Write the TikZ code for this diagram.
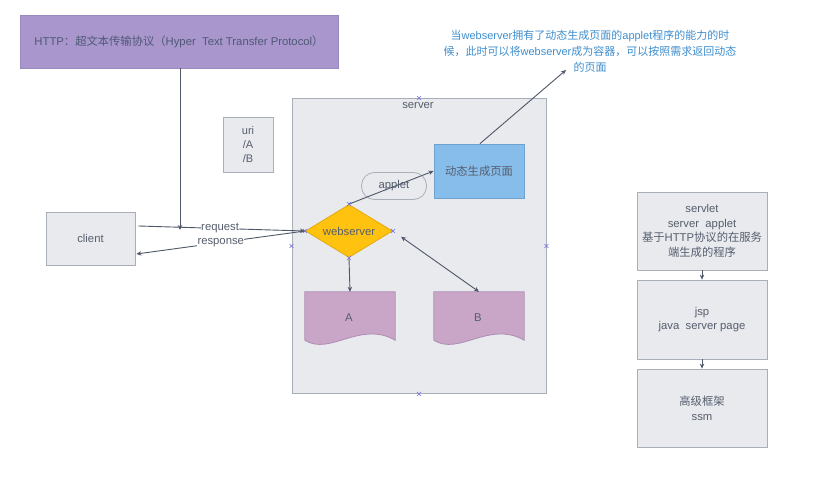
\documentclass[tikz,border=0pt]{standalone}
\usepackage{fontspec}
\setmainfont{Liberation Sans}
\newfontfamily\cjk{Noto Sans CJK SC}
\newcommand\zh[1]{{\cjk #1}}
\usetikzlibrary{shapes.geometric,arrows.meta,calc}
\definecolor{boxfill}{HTML}{E8EAEE}
\definecolor{boxline}{HTML}{A9AFB9}
\definecolor{txt}{HTML}{565E6D}
\definecolor{httpfill}{HTML}{A896CC}
\definecolor{httpline}{HTML}{9A88C0}
\definecolor{httptxt}{HTML}{505976}
\definecolor{dynfill}{HTML}{87BDEA}
\definecolor{dynline}{HTML}{6FA2CF}
\definecolor{wsfill}{HTML}{FFC20E}
\definecolor{wsline}{HTML}{E3AA10}
\definecolor{docfill}{HTML}{C9A6C7}
\definecolor{docline}{HTML}{AE8DB4}
\definecolor{arrc}{HTML}{4F5868}
\definecolor{notec}{HTML}{3E8ECE}
\definecolor{markc}{HTML}{6E6EE0}
\newcommand\selmark[1]{\draw[markc, line width=0.5pt] ($(#1)+(-2,-2)$) -- ($(#1)+(2,2)$) ($(#1)+(-2,2)$) -- ($(#1)+(2,-2)$);}
\begin{document}
\begin{tikzpicture}[x=1pt,y=-1pt,
  font=\fontsize{11.3}{15}\selectfont,
  box/.style={draw=boxline, fill=boxfill, line width=0.8pt, inner sep=0pt, align=center, text=txt},
  arr/.style={draw=arrc, line width=0.9pt, -{Stealth[length=5pt,width=4.5pt]}},
  arrboth/.style={draw=arrc, line width=0.9pt, {Stealth[length=5pt,width=4.5pt]}-{Stealth[length=5pt,width=4.5pt]}},
  lbl/.style={fill=white, inner sep=0.5pt, text=txt},
  docbox/.style={minimum width=90pt, minimum height=48pt, inner sep=0pt, text=txt}
]
\useasboundingbox[fill=white] (0,0) rectangle (815,481);

% HTTP box
\node[box, draw=httpline, fill=httpfill, text=httptxt, minimum width=318pt, minimum height=53pt] (http) at (179,41.5)
  {HTTP\zh{：超文本传输协议（}Hyper\ \ Text Transfer Protocol\zh{）}};

% client
\node[box, minimum width=89pt, minimum height=53pt] (client) at (90.5,238.5) {client};

% server container
\node[box, minimum width=254pt, minimum height=295pt] (server) at (419,246) {};
\node[text=txt, inner sep=0pt] (srvlabel) at (418,106) {server};

% uri box
\node[box, minimum width=50pt, minimum height=55pt, font=\fontsize{11}{14}\selectfont] (uri) at (248,144.5) {uri\\/A\\/B};

% dynamic page box
\node[box, draw=dynline, fill=dynfill, minimum width=90pt, minimum height=54pt] (dyn) at (479,171) {\zh{动态生成页面}};

% applet pill
\node[draw=boxline, line width=0.8pt, rounded corners=13pt, minimum width=65pt, minimum height=27pt, inner sep=0pt, text=txt] (applet) at (394,186) {applet};

% webserver diamond
\node[diamond, draw=wsline, fill=wsfill, line width=0.8pt, aspect=1.64, minimum width=87pt, minimum height=53pt, inner sep=0pt, text=txt] (ws) at (349,231) {webserver};

% documents A and B
\node[docbox] (A) at (350,316) {};
\node[docbox] (B) at (479,316) {};
\foreach \d in {A,B}{
  \draw[draw=docline, fill=docfill, line width=0.8pt]
    (\d.north west) -- (\d.north east) -- (\d.south east)
    .. controls ($(\d.south east)+(-35,-20)$) and ($(\d.south west)+(25,16)$) .. (\d.south west) -- cycle;
}
\node[text=txt] (Alabel) at (349,318) {A};
\node[text=txt] (Blabel) at (478,318) {B};

% right column
\node[box, minimum width=130pt, minimum height=78pt, font=\fontsize{11.3}{14.7}\selectfont] (servlet) at (702,231)
  {servlet\\server\ \ applet\\\zh{基于}HTTP\zh{协议的在服务}\\\zh{端生成的程序}};
\node[box, minimum width=130pt, minimum height=79pt, font=\fontsize{11.3}{14}\selectfont] (jsp) at (702,319.5)
  {jsp\\java\ \ server page};
\node[box, minimum width=130pt, minimum height=78pt] (ssm) at (702,408)
  {\zh{高级框架}\\ssm};

% note
\node[text=notec, align=center, font=\fontsize{11}{16}\selectfont] (note) at (590,51)
  {\zh{当}webserver\zh{拥有了动态生成页面的}applet\zh{程序的能力的时}\\
   \zh{候，此时可以将}webserver\zh{成为容器，可以按照需求返回动态}\\
   \zh{的页面}};

% connectors
\coordinate (hj) at (180,230);
\coordinate (nt) at (566,70);
\draw[arr] (http.south -| hj) -- (hj);
\draw[arr] ([xshift=3pt,yshift=12.5pt]client.east) -- node[lbl, pos=0.49] {request} (ws.west);
\draw[arr] (ws.west) -- node[lbl, pos=0.5] {response} ([xshift=1pt,yshift=-15.5pt]client.east);
\draw[arr] (ws.north) -- (dyn.west);
\draw[arr] ([xshift=1pt]dyn.north) -- (nt);
\draw[arr] (ws.south) -- (A.north);
\draw[arrboth] ($(ws.east)!10pt!(B.north)$) -- (B.north);
\draw[arr] (servlet.south) -- (jsp.north);
\draw[arr] (jsp.south) -- (ssm.north);

% selection marks
\selmark{server.north}
\selmark{server.south}
\selmark{server.west}
\selmark{server.east}
\selmark{ws.west}
\selmark{ws.north}
\selmark{ws.south}
\selmark{ws.east}
\end{tikzpicture}
\end{document}
